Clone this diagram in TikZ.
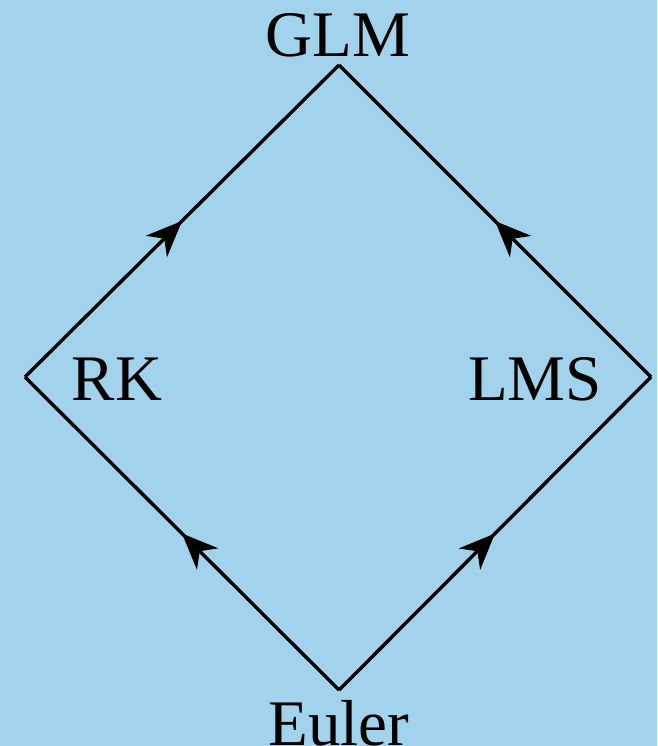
\documentclass[tikz,border=0pt]{standalone}
\usepackage{fontspec}
\setmainfont{Liberation Serif}
\usetikzlibrary{arrows.meta,decorations.markings}
\definecolor{bgblue}{HTML}{A3D3EC}
\tikzset{
  lbl/.style={font=\fontsize{65}{65}\selectfont, anchor=base, inner sep=0pt},
  flow/.style={line width=3.4pt, line join=miter, postaction={decorate},
    decoration={markings, mark=at position 0.5 with {\arrow{Stealth[length=36pt,width=30pt,inset=11pt]}}}}
}
\begin{document}
\begin{tikzpicture}[x=1pt,y=-1pt]
  \fill[bgblue] (0,0) rectangle (657,746);
  \useasboundingbox (0,0) rectangle (657,746);
  % corners of the diamond
  \coordinate (top) at (339,65);
  \coordinate (left) at (25,377);
  \coordinate (right) at (651,377);
  \coordinate (bottom) at (339,690);
  % labels
  \node[lbl] (glm) at (338,57) {GLM};
  \node[lbl] (rk) at (117,400) {RK};
  \node[lbl] (lms) at (535,400) {LMS};
  \node[lbl] (euler) at (339,745) {Euler};
  % edges
  \draw[flow] (bottom) -- (left);
  \draw[flow] (left) -- (top);
  \draw[flow] (bottom) -- (right);
  \draw[flow] (right) -- (top);
\end{tikzpicture}
\end{document}
